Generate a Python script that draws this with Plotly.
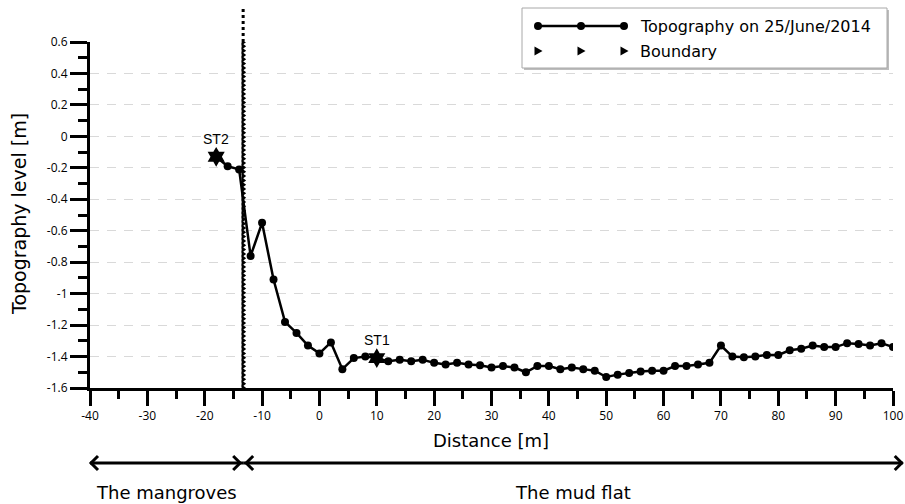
import numpy as np
import plotly.graph_objects as go

# ---- survey data -------------------------------------------------------
distance_m = [-18, -16, -14, -12, -10, -8, -6, -4, -2, 0,
              2, 4, 6, 8, 10, 12, 14, 16, 18, 20,
              22, 24, 26, 28, 30, 32, 34, 36, 38, 40,
              42, 44, 46, 48, 50, 52, 54, 56, 58, 60,
              62, 64, 66, 68, 70, 72, 74, 76, 78, 80,
              82, 84, 86, 88, 90, 92, 94, 96, 98, 100]
level_m = [-0.13, -0.19, -0.21, -0.76, -0.55, -0.91, -1.18, -1.25, -1.33, -1.38,
           -1.31, -1.48, -1.41, -1.40, -1.41, -1.43, -1.42, -1.43, -1.42, -1.44,
           -1.45, -1.44, -1.45, -1.455, -1.47, -1.46, -1.47, -1.50, -1.46, -1.46,
           -1.48, -1.47, -1.48, -1.49, -1.53, -1.515, -1.505, -1.495, -1.49, -1.49,
           -1.46, -1.46, -1.45, -1.44, -1.33, -1.40, -1.405, -1.40, -1.39, -1.39,
           -1.36, -1.35, -1.33, -1.34, -1.34, -1.315, -1.32, -1.33, -1.315, -1.34]

station_names = ["ST2", "ST1"]
station_distance_m = [-18, 10]

boundary_distance_m = -13.3

zone_names = ["The mangroves", "The mud flat"]
zone_start_m = [-40, -13.3]
zone_end_m = [-13.3, 101.7]

legend_labels = ["Topography on 25/June/2014", "Boundary"]
axis_titles = ["Distance [m]", "Topography level [m]"]

x_tick_values = [-40, -30, -20, -10, 0, 10, 20, 30, 40, 50, 60, 70, 80, 90, 100]
x_tick_labels = ["-40", "-30", "-20", "-10", "0", "10", "20", "30", "40", "50",
                 "60", "70", "80", "90", "100"]
y_tick_values = [0.6, 0.4, 0.2, 0.0, -0.2, -0.4, -0.6, -0.8, -1.0, -1.2, -1.4, -1.6]
y_tick_labels = ["0.6", "0.4", "0.2", "0", "-0.2", "-0.4", "-0.6", "-0.8", "-1",
                 "-1.2", "-1.4", "-1.6"]

# ---- page geometry -----------------------------------------------------
W, H = 905, 504
ML, MR, MT, MB = 90, 12, 42, 116
PW, PH = W - ML - MR, H - MT - MB
X_MIN, X_MAX = x_tick_values[0], x_tick_values[-1]
Y_MIN, Y_MAX = y_tick_values[-1], y_tick_values[0]


def px(x):
    """figure pixel column -> paper fraction"""
    return (x - ML) / PW


def py(y):
    """figure pixel row -> paper fraction"""
    return (H - MB - y) / PH


def xfrac(d):
    """distance on the x axis -> paper fraction"""
    return (d - X_MIN) / (X_MAX - X_MIN)


station_level_m = [level_m[distance_m.index(d)] for d in station_distance_m]

fig = go.Figure()

# boundary between mangroves and mud flat: a column of small triangles
boundary_y = np.arange(Y_MIN, Y_MAX + 1e-9, 0.0275)
fig.add_trace(go.Scatter(
    x=[boundary_distance_m] * len(boundary_y), y=boundary_y,
    mode="markers",
    marker=dict(symbol="triangle-right", size=6, color="black"),
    name=legend_labels[1], hoverinfo="skip"))

# topography profile
fig.add_trace(go.Scatter(
    x=distance_m, y=level_m, mode="lines+markers",
    line=dict(color="black", width=2.5),
    marker=dict(symbol="circle", size=8, color="black"),
    name=legend_labels[0]))

# stations
fig.add_trace(go.Scatter(
    x=station_distance_m, y=station_level_m, mode="markers",
    marker=dict(symbol="hexagram", size=15, color="black"),
    showlegend=False))

fig.update_xaxes(
    range=[X_MIN, X_MAX],
    tickmode="array", tickvals=x_tick_values, ticktext=x_tick_labels,
    ticks="outside", ticklen=15, tickwidth=3, tickcolor="black",
    minor=dict(ticks="outside", ticklen=8, tickwidth=3, tickcolor="black",
               dtick=5),
    showline=True, linewidth=3, linecolor="black",
    showgrid=False, zeroline=False, automargin=False,
    tickfont=dict(size=12, color="black"))

fig.update_yaxes(
    range=[Y_MIN, Y_MAX],
    tickmode="array", tickvals=y_tick_values, ticktext=y_tick_labels,
    ticks="outside", ticklen=17, tickwidth=3, tickcolor="black",
    minor=dict(ticks="outside", ticklen=9, tickwidth=3, tickcolor="black",
               dtick=0.1),
    showline=True, linewidth=3, linecolor="black",
    showgrid=True, gridcolor="#d9d9d9", griddash="9px,8px",
    zeroline=False, automargin=False,
    tickfont=dict(size=12, color="black"))

shapes = []
annotations = []

# axis titles
annotations.append(dict(text=axis_titles[0], xref="paper", yref="paper",
                        x=px(491), y=py(440), xanchor="center", yanchor="middle",
                        showarrow=False,
                        font=dict(family="DejaVu Sans", size=18, color="black")))
annotations.append(dict(text=axis_titles[1], xref="paper", yref="paper",
                        x=px(19), y=py(214), xanchor="center", yanchor="middle",
                        textangle=-90, showarrow=False,
                        font=dict(family="DejaVu Sans", size=19, color="black")))

# station labels
for name, sx, sy in zip(station_names, station_distance_m, station_level_m):
    annotations.append(dict(text=name, x=sx, y=sy, xref="x", yref="y",
                            yanchor="bottom", yshift=8, showarrow=False,
                            font=dict(family="Liberation Sans", size=14, color="black")))

# boundary continues above the top of the axis
shapes.append(dict(type="line", xref="paper", yref="paper",
                   x0=xfrac(boundary_distance_m), x1=xfrac(boundary_distance_m),
                   y0=1, y1=py(9), line=dict(color="black", width=3, dash="dot")))

# ---- legend box --------------------------------------------------------
shapes.append(dict(type="rect", xref="paper", yref="paper",
                   x0=px(524), x1=px(889), y0=py(70), y1=py(10),
                   line=dict(width=0), fillcolor="#bdbdbd"))
shapes.append(dict(type="rect", xref="paper", yref="paper",
                   x0=px(522), x1=px(887), y0=py(68), y1=py(8),
                   line=dict(color="#a8a8a8", width=1), fillcolor="white"))
row_y = [26, 51]
sample_x = [538, 581, 624]
shapes.append(dict(type="line", xref="paper", yref="paper",
                   x0=px(sample_x[0]), x1=px(sample_x[-1]),
                   y0=py(row_y[0]), y1=py(row_y[0]),
                   line=dict(color="black", width=2.5)))
for sx in sample_x:
    shapes.append(dict(type="circle", xref="paper", yref="paper",
                       xsizemode="pixel", ysizemode="pixel",
                       xanchor=px(sx), yanchor=py(row_y[0]),
                       x0=-4, x1=4, y0=-4, y1=4,
                       fillcolor="black", line=dict(width=0)))
    shapes.append(dict(type="path", xref="paper", yref="paper",
                       xsizemode="pixel", ysizemode="pixel",
                       xanchor=px(sx), yanchor=py(row_y[1]),
                       path="M -3.5,-4.5 L 4.5,0 L -3.5,4.5 Z",
                       fillcolor="black", line=dict(width=0)))
for label, ry in zip(legend_labels, row_y):
    annotations.append(dict(text=label, xref="paper", yref="paper",
                            x=px(638), y=py(ry), xanchor="left", yanchor="middle",
                            showarrow=False,
                            font=dict(family="DejaVu Sans", size=16, color="black")))

# ---- zone arrows under the axis ---------------------------------------
arrow_y = py(463)
for i, (x0, x1) in enumerate(zip(zone_start_m, zone_end_m)):
    lo, hi = xfrac(x0), xfrac(x1)
    shapes.append(dict(type="line", xref="paper", yref="paper",
                       x0=lo, x1=hi, y0=arrow_y, y1=arrow_y,
                       line=dict(color="black", width=3)))
    off_l = 2 * i
    off_r = 2 * (1 - i)
    shapes.append(dict(type="path", xref="paper", yref="paper",
                       xsizemode="pixel", ysizemode="pixel",
                       xanchor=lo, yanchor=arrow_y,
                       path=f"M {8 + off_l},7 L {1 + off_l},0 L {8 + off_l},-7",
                       line=dict(color="black", width=3)))
    shapes.append(dict(type="path", xref="paper", yref="paper",
                       xsizemode="pixel", ysizemode="pixel",
                       xanchor=hi, yanchor=arrow_y,
                       path=f"M {-8 - off_r},7 L {-1 - off_r},0 L {-8 - off_r},-7",
                       line=dict(color="black", width=3)))
    annotations.append(dict(text=zone_names[i], xref="paper", yref="paper",
                            x=(lo + hi) / 2, y=py(492),
                            xanchor="center", yanchor="middle", showarrow=False,
                            font=dict(family="DejaVu Sans", size=18, color="black")))

fig.update_layout(
    width=W, height=H,
    margin=dict(l=ML, r=MR, t=MT, b=MB),
    plot_bgcolor="white",
    showlegend=False,
    shapes=shapes, annotations=annotations)

fig.write_html("out.html")
